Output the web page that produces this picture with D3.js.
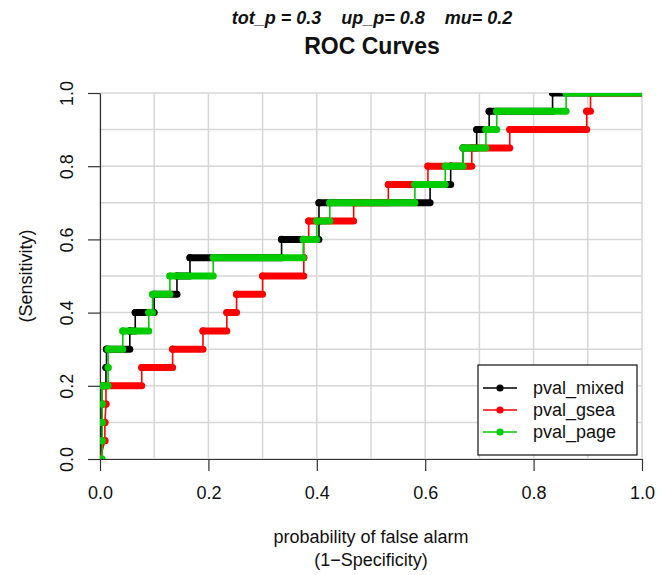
<!DOCTYPE html>
<html lang="en">
<head>
    <meta charset="UTF-8">
    <title>ROC Curves</title>
    <script src="https://cdn.jsdelivr.net/npm/d3@7/dist/d3.min.js"></script>
</head>
<body>
<style>
    body {
        margin: 0;
        background-color: white;
    }

    svg text {
        font-family: "Liberation Sans", Arial, sans-serif;
        fill: #111;
    }

    .axis path,
    .axis line {
        fill: none;
        stroke: #333;
        stroke-width: 1.2;
    }

    .axis text {
        font-size: 18px;
    }

    .grid line {
        stroke: #d6d6d6;
        stroke-width: 1.5;
    }
</style>

<svg width="671" height="575"></svg>

<script>
    // sensitivity levels (one horizontal run of each curve per level)
    var tprLevels = [0, 0.05, 0.1, 0.15, 0.2, 0.25, 0.3, 0.35, 0.4, 0.45, 0.5,
        0.55, 0.6, 0.65, 0.7, 0.75, 0.8, 0.85, 0.9, 0.95, 1.0];

    // false alarm where each run starts / ends
    var mixedFrom = [0, 0.003, 0.003, 0.004, 0.004, 0.011, 0.012, 0.055, 0.065, 0.1, 0.142,
        0.166, 0.335, 0.404, 0.404, 0.609, 0.647, 0.67, 0.695, 0.718, 0.835];
    var mixedTo = [0.003, 0.003, 0.003, 0.004, 0.011, 0.012, 0.055, 0.065, 0.1, 0.142, 0.166,
        0.335, 0.404, 0.404, 0.609, 0.647, 0.67, 0.695, 0.718, 0.835, 1.0];

    var gseaFrom = [0, 0.009, 0.009, 0.011, 0.011, 0.077, 0.134, 0.19, 0.234, 0.252, 0.3,
        0.376, 0.376, 0.385, 0.468, 0.532, 0.605, 0.686, 0.756, 0.898, 0.905];
    var gseaTo = [0, 0.009, 0.009, 0.011, 0.077, 0.134, 0.19, 0.234, 0.252, 0.3, 0.376,
        0.376, 0.385, 0.468, 0.532, 0.605, 0.686, 0.756, 0.898, 0.905, 1.0];

    var pageFrom = [0, 0.004, 0.004, 0.004, 0.004, 0.015, 0.015, 0.042, 0.09, 0.097, 0.129,
        0.209, 0.375, 0.4, 0.424, 0.581, 0.637, 0.67, 0.712, 0.732, 0.86];
    var pageTo = [0.004, 0.004, 0.004, 0.004, 0.015, 0.015, 0.042, 0.09, 0.097, 0.129, 0.209,
        0.375, 0.4, 0.424, 0.581, 0.637, 0.67, 0.712, 0.732, 0.86, 1.0];

    var seriesNames = ["pval_mixed", "pval_gsea", "pval_page"];
    var seriesColors = ["#000000", "#ff0000", "#00cc00"];

    var axisTicks = [0, 0.2, 0.4, 0.6, 0.8, 1.0];
    var gridTicks = [0, 0.1, 0.2, 0.3, 0.4, 0.5, 0.6, 0.7, 0.8, 0.9, 1.0];

    var series = [
        {name: seriesNames[0], color: seriesColors[0], from: mixedFrom, to: mixedTo},
        {name: seriesNames[1], color: seriesColors[1], from: gseaFrom, to: gseaTo},
        {name: seriesNames[2], color: seriesColors[2], from: pageFrom, to: pageTo}
    ];

    var svg = d3.select("svg");
    var getX = d3.scaleLinear().domain([0, 1]).range([100, 642]);
    var getY = d3.scaleLinear().domain([0, 1]).range([459, 93]);

    //网格
    svg.append("g").attr("class", "grid")
        .selectAll("line.v").data(gridTicks).enter().append("line")
        .attr("x1", function (d) { return getX(d); })
        .attr("x2", function (d) { return getX(d); })
        .attr("y1", getY(0))
        .attr("y2", getY(1));
    svg.select(".grid")
        .selectAll("line.h").data(gridTicks).enter().append("line")
        .attr("x1", getX(0))
        .attr("x2", getX(1))
        .attr("y1", function (d) { return getY(d); })
        .attr("y2", function (d) { return getY(d); });

    //坐标轴
    var axisX = d3.axisBottom(getX)
        .tickValues(axisTicks)
        .tickFormat(d3.format(".1f"))
        .tickSize(12)
        .tickPadding(15)
        .tickSizeOuter(0);
    svg.append("g")
        .attr("class", "axis")
        .attr("transform", "translate(0," + getY(0) + ")")
        .call(axisX);

    var axisY = d3.axisLeft(getY)
        .tickValues(axisTicks)
        .tickFormat(d3.format(".1f"))
        .tickSize(12)
        .tickSizeOuter(0);
    svg.append("g")
        .attr("class", "axis")
        .attr("transform", "translate(" + getX(0) + ",0)")
        .call(axisY)
        .selectAll("text")
        .attr("transform", "rotate(-90)")
        .attr("x", 0)
        .attr("y", -27)
        .attr("dy", 0)
        .style("text-anchor", "middle");

    //曲线
    svg.append("clipPath").attr("id", "plotClip")
        .append("rect")
        .attr("x", getX(0)).attr("y", getY(1))
        .attr("width", getX(1) - getX(0))
        .attr("height", getY(0) - getY(1));

    var plot = svg.append("g").attr("clip-path", "url(#plotClip)");
    var line = d3.line()
        .x(function (d) { return getX(d[0]); })
        .y(function (d) { return getY(d[1]); });

    series.forEach(function (s) {
        var pts = [];
        var runs = [];
        tprLevels.forEach(function (t, i) {
            pts.push([s.from[i], t]);
            pts.push([s.to[i], t]);
            runs.push({x0: s.from[i], x1: s.to[i], y: t});
        });
        var g = plot.append("g");
        g.append("path")
            .attr("d", line(pts))
            .attr("fill", "none")
            .attr("stroke", s.color)
            .attr("stroke-width", 1.6);
        g.selectAll("line").data(runs).enter().append("line")
            .attr("x1", function (d) { return getX(d.x0); })
            .attr("x2", function (d) { return getX(d.x1); })
            .attr("y1", function (d) { return getY(d.y); })
            .attr("y2", function (d) { return getY(d.y); })
            .attr("stroke", s.color)
            .attr("stroke-width", 7)
            .attr("stroke-linecap", "round");
        g.selectAll("circle").data(runs).enter().append("circle")
            .attr("cx", function (d) { return getX(d.x0); })
            .attr("cy", function (d) { return getY(d.y); })
            .attr("r", 3.6)
            .attr("fill", s.color);
    });

    //标题
    svg.append("text")
        .attr("x", 372).attr("y", 24)
        .attr("text-anchor", "middle")
        .style("font-size", "18px")
        .style("font-weight", "bold")
        .style("font-style", "italic")
        .style("white-space", "pre")
        .text("tot_p = 0.3    up_p= 0.8    mu= 0.2");
    svg.append("text")
        .attr("x", 372).attr("y", 54)
        .attr("text-anchor", "middle")
        .style("font-size", "23px")
        .style("font-weight", "bold")
        .text("ROC Curves");

    //坐标轴说明
    svg.append("text")
        .attr("x", 371).attr("y", 543)
        .attr("text-anchor", "middle")
        .style("font-size", "18px")
        .text("probability of false alarm");
    svg.append("text")
        .attr("x", 371).attr("y", 566)
        .attr("text-anchor", "middle")
        .style("font-size", "18px")
        .text("(1\u2212Specificity)");
    svg.append("text")
        .attr("transform", "translate(32,276) rotate(-90)")
        .attr("text-anchor", "middle")
        .style("font-size", "18px")
        .text("(Sensitivity)");

    //图例
    var legend = svg.append("g").attr("transform", "translate(478,365)");
    legend.append("rect")
        .attr("width", 159).attr("height", 90)
        .attr("fill", "white")
        .attr("stroke", "#111")
        .attr("stroke-width", 1.2);
    var item = legend.selectAll(".item").data(series).enter().append("g")
        .attr("transform", function (d, i) { return "translate(0," + (23 + 22 * i) + ")"; });
    item.append("line")
        .attr("x1", 5).attr("x2", 39)
        .attr("stroke", function (d) { return d.color; })
        .attr("stroke-width", 1.6);
    item.append("circle")
        .attr("cx", 22).attr("r", 3.6)
        .attr("fill", function (d) { return d.color; });
    item.append("text")
        .attr("x", 55).attr("dy", "0.35em")
        .style("font-size", "18px")
        .text(function (d) { return d.name; });
</script>
</body>
</html>
